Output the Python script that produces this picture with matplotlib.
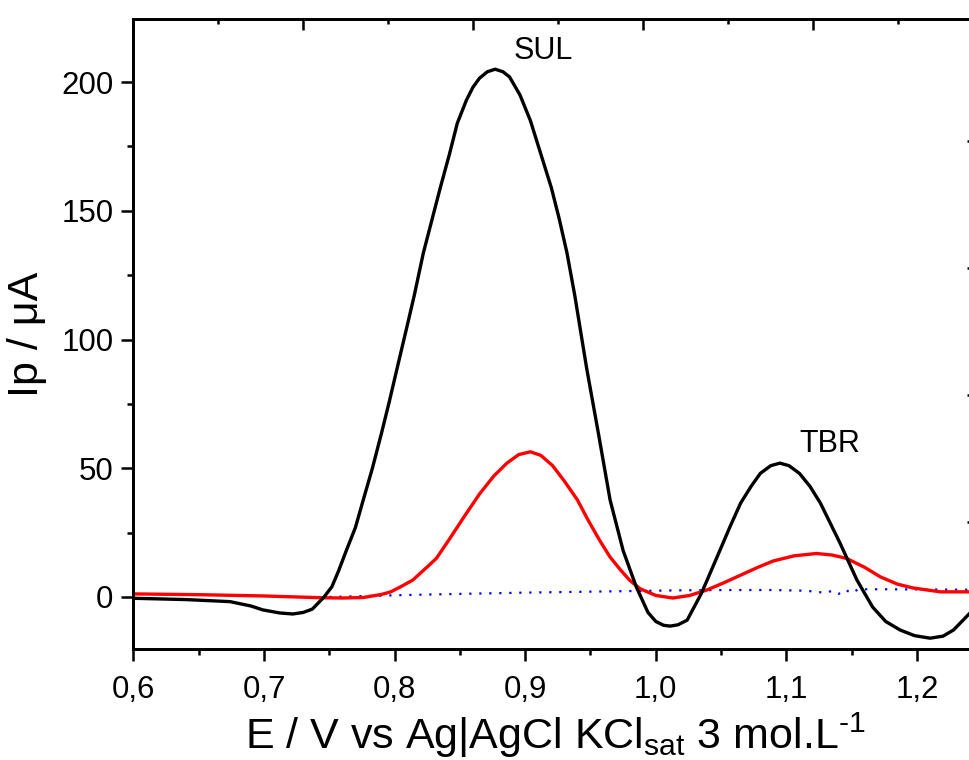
import matplotlib
matplotlib.use("Agg")
import matplotlib.pyplot as plt
from matplotlib.ticker import MultipleLocator, NullFormatter, FuncFormatter

plt.rcParams['font.family'] = ['Liberation Sans', 'DejaVu Sans']
plt.rcParams['mathtext.default'] = 'regular'

# ---- data ----
black_x = [0.600, 0.640, 0.674, 0.690, 0.699, 0.712, 0.722, 0.730, 0.737, 0.746,
           0.752, 0.757, 0.763, 0.770, 0.776, 0.783, 0.790, 0.796, 0.802, 0.809,
           0.815, 0.822, 0.835, 0.842, 0.848, 0.855, 0.860, 0.865, 0.871, 0.877,
           0.883, 0.888, 0.896, 0.904, 0.912, 0.920, 0.926, 0.932, 0.938, 0.947,
           0.956, 0.965, 0.975, 0.985, 0.994, 1.000, 1.006, 1.011, 1.017, 1.024,
           1.035, 1.049, 1.057, 1.065, 1.073, 1.080, 1.088, 1.095, 1.102, 1.110,
           1.118, 1.126, 1.141, 1.154, 1.166, 1.176, 1.187, 1.198, 1.210, 1.220,
           1.228, 1.241, 1.247]
black_y = [-0.5, -1.0, -1.8, -3.5, -5.0, -6.2, -6.6, -6.0, -4.7, 0.0,
           4.0, 10.0, 18.0, 27.0, 37.7, 50.0, 63.7, 76.0, 89.0, 104.0,
           117.0, 133.6, 159.0, 172.0, 184.0, 193.0, 198.0, 201.5, 204.0, 205.0,
           204.0, 202.0, 195.0, 185.0, 172.0, 159.0, 147.0, 133.6, 117.0, 89.0,
           63.7, 37.7, 18.0, 4.0, -6.0, -9.5, -11.0, -11.3, -10.8, -9.0,
           1.5, 18.0, 27.5, 36.5, 43.0, 48.0, 51.0, 52.0, 51.0, 48.0,
           43.0, 36.5, 21.0, 6.6, -3.9, -9.5, -12.8, -15.0, -16.0, -15.2,
           -12.8, -6.0, -2.5]

red_x = [0.600, 0.650, 0.700, 0.745, 0.760, 0.776, 0.790, 0.797, 0.804, 0.814,
         0.825, 0.832, 0.842, 0.853, 0.865, 0.876, 0.886, 0.895, 0.904, 0.912,
         0.921, 0.930, 0.940, 0.948, 0.957, 0.965, 0.973, 0.980, 0.988, 1.000,
         1.013, 1.026, 1.039, 1.052, 1.065, 1.078, 1.090, 1.106, 1.123, 1.135,
         1.146, 1.160, 1.172, 1.185, 1.197, 1.218, 1.247]
red_y = [1.2, 0.9, 0.4, -0.3, -0.4, -0.2, 1.0, 2.0, 3.8, 6.6,
         11.7, 15.0, 22.5, 31.0, 40.0, 47.0, 52.0, 55.3, 56.4, 55.0,
         51.0, 45.0, 37.7, 30.0, 22.0, 15.5, 10.5, 6.5, 3.2, 0.6,
         -0.4, 0.6, 2.7, 5.5, 8.5, 11.5, 14.0, 16.0, 16.9, 16.3,
         15.0, 11.5, 7.8, 5.0, 3.5, 2.0, 2.0]

blue_x = [0.750, 0.780, 0.820, 0.860, 0.900, 0.940, 0.980, 1.020, 1.060, 1.090,
          1.110, 1.120, 1.130, 1.135, 1.140, 1.145, 1.150, 1.155, 1.180, 1.247]
blue_y = [0.0, 0.4, 0.9, 1.3, 1.7, 2.0, 2.3, 2.6, 2.7, 2.7,
          2.5, 2.2, 1.6, 2.4, 1.2, 2.8, 1.5, 3.0, 3.0, 2.8]

annotations = [("SUL", 0.914, 212.0), ("TBR", 1.133, 59.5)]

x_label = "E / V vs Ag|AgCl KCl$_{sat}$ 3 mol.L$^{\u20101}$"
y_label = "Ip / μA"

# ---- figure ----
W, H = 970, 760
fig = plt.figure(figsize=(W / 100, H / 100), dpi=100)
left_px, right_px, top_px, bottom_px = 133.4, 978.0, 19.0, 649.0
ax = fig.add_axes([left_px / W, 1 - bottom_px / H,
                   (right_px - left_px) / W, (bottom_px - top_px) / H])

ax.plot(blue_x, blue_y, color='#0000ff', lw=1.6, linestyle=(0, (1, 3.5)), zorder=2)
ax.plot(red_x, red_y, color='#ff0000', lw=2.4, zorder=3)
ax.plot(black_x, black_y, color='black', lw=2.4, zorder=4)

ax.set_xlim(0.6, 0.6 + (right_px - left_px) / 1306.0)
ax.set_ylim(-20.2, 224.5)

ax.xaxis.set_major_locator(MultipleLocator(0.1))
ax.xaxis.set_minor_locator(MultipleLocator(0.05))
ax.yaxis.set_major_locator(MultipleLocator(50))
ax.yaxis.set_minor_locator(MultipleLocator(25))
ax.xaxis.set_major_formatter(FuncFormatter(lambda v, p: f"{v:.1f}".replace('.', ',')))

ax.tick_params(which='major', direction='out', length=8.5, width=1.8, labelsize=22.5)
ax.tick_params(which='minor', direction='out', length=4.5, width=1.8)
ax.tick_params(axis='x', which='major', pad=10)
ax.tick_params(axis='y', which='major', pad=6)
ax.tick_params(top=False, right=False)
for s in ax.spines.values():
    s.set_linewidth(1.9)

ax.set_xlabel(x_label, fontsize=31, labelpad=4)
ax.set_ylabel(y_label, fontsize=31, labelpad=10)

for txt, xv, yv in annotations:
    ax.text(xv, yv, txt, fontsize=22, ha='center', va='center')

# second-layer ticks on top and right (different scale, no labels)
axt = ax.twiny()
axt.set_xlim(0, (right_px - left_px) / 170.0)
axt.xaxis.set_major_locator(MultipleLocator(1))
axt.xaxis.set_minor_locator(MultipleLocator(0.5))
axt.xaxis.set_major_formatter(NullFormatter())
axt.tick_params(axis='x', which='major', direction='in', length=8, width=1.8)
axt.tick_params(axis='x', which='minor', direction='in', length=3.6, width=1.8)
axt.tick_params(axis='y', left=False, right=False, labelleft=False, labelright=False)

axr = ax.twinx()
axr.set_ylim(0, (bottom_px - top_px) / 127.0)
axr.yaxis.set_major_locator(MultipleLocator(1))
axr.yaxis.set_major_formatter(NullFormatter())
axr.tick_params(axis='y', which='major', direction='in', length=7.8, width=1.8)
axr.tick_params(axis='y', which='minor', right=False)
for a in (axt, axr):
    for s in a.spines.values():
        s.set_linewidth(1.9)

fig.savefig("out.png", dpi=100)
